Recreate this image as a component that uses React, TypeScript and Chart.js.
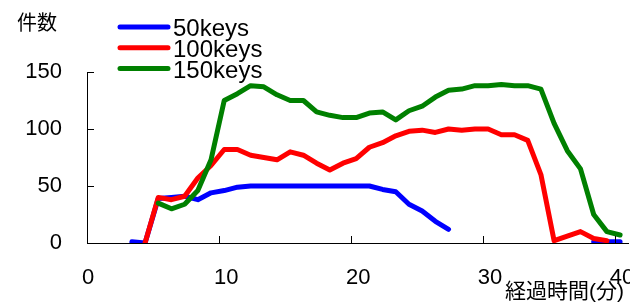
import { useEffect, useRef } from "react";
import { Chart, registerables } from "chart.js";

Chart.register(...registerables);

// elapsed minutes of each sample
const minutes = [
  3.4, 4.4, 5.4, 6.4, 7.4, 8.4, 9.4, 10.4, 11.4, 12.4, 13.4, 14.4, 15.4, 16.4, 17.4, 18.4, 19.4,
  20.4, 21.4, 22.4, 23.4, 24.4, 25.4, 26.4, 27.4, 28.4, 29.4, 30.4, 31.4, 32.4, 33.4, 34.4, 35.4,
  36.4, 37.4, 38.4, 39.4, 40.4,
];

const keys50 = [
  1, 0, 39, 40, 41, 38, 44, 46, 49, 50, 50, 50, 50, 50, 50, 50, 50, 50, 50, 47, 45, 34, 28, 19, 12,
  null, null, null, null, null, null, null, null, null, null, 1, 1, 1,
];

const keys100 = [
  null, 0, 40, 38, 41, 57, 68, 82, 82, 77, 75, 73, 80, 77, 70, 64, 70, 74, 84, 88, 94, 98, 99, 97,
  100, 99, 100, 100, 95, 95, 90, 60, 2, 6, 10, 4, 2, null,
];

const keys150 = [
  null, null, 35, 30, 34, 46, 73, 125, 131, 138, 137, 130, 125, 125, 115, 112, 110, 110, 114, 115,
  108, 116, 120, 128, 134, 135, 138, 138, 139, 138, 138, 135, 105, 81, 65, 25, 10, 7,
];

const seriesLabels = ["50keys", "100keys", "150keys"];
const seriesColors = ["#0000FF", "#FF0000", "#008000"];
const xTicks = [0, 10, 20, 30, 40];
const yTicks = [0, 50, 100, 150];
const yTitle = "件数";
const xTitle = "経過時間(分)";

const LATIN = '"Liberation Sans", Arial, sans-serif';
const CJK = '"Liberation Sans", "Noto Sans CJK JP", sans-serif';

function toPoints(values: (number | null)[]) {
  return minutes.map((m, i) => ({ x: m, y: values[i] }));
}

const decorPlugin = {
  id: "decor",
  afterDraw(chart: any) {
    const { ctx } = chart;
    const x = chart.scales.x;
    const y = chart.scales.y;
    ctx.save();
    // inward tick marks
    ctx.strokeStyle = "#000";
    ctx.lineWidth = 1;
    xTicks.slice(1).forEach((v) => {
      const px = Math.round(x.getPixelForValue(v)) + 0.5;
      ctx.beginPath();
      ctx.moveTo(px, y.bottom);
      ctx.lineTo(px, y.bottom - 7);
      ctx.stroke();
    });
    yTicks.slice(1).forEach((v) => {
      const py = Math.round(y.getPixelForValue(v)) + 0.5;
      ctx.beginPath();
      ctx.moveTo(x.left, py);
      ctx.lineTo(x.left + 7, py);
      ctx.stroke();
    });
    // axis titles
    ctx.fillStyle = "#000";
    ctx.textBaseline = "middle";
    ctx.font = `20px ${CJK}`;
    ctx.textAlign = "center";
    ctx.fillText(yTitle, 37, 24);
    ctx.font = `21px ${CJK}`;
    ctx.textAlign = "right";
    ctx.fillText(xTitle, 624, 292);
    // legend
    chart.data.datasets.forEach((ds: any, i: number) => {
      const ly = 27 + i * 20.8;
      ctx.strokeStyle = ds.borderColor;
      ctx.lineWidth = 5;
      ctx.lineCap = "round";
      ctx.beginPath();
      ctx.moveTo(120, ly);
      ctx.lineTo(168, ly);
      ctx.stroke();
      ctx.fillStyle = "#000";
      ctx.font = `24px ${LATIN}`;
      ctx.textAlign = "left";
      ctx.fillText(ds.label, 173, ly + 2.5);
    });
    ctx.restore();
  },
};

export default function App() {
  const canvasRef = useRef<HTMLCanvasElement | null>(null);

  useEffect(() => {
    const canvas = canvasRef.current;
    if (!canvas) return;
    const series = [keys50, keys100, keys150];
    const chart = new Chart(canvas, {
      type: "line",
      data: {
        datasets: series.map((vals, i) => ({
          label: seriesLabels[i],
          data: toPoints(vals),
          borderColor: seriesColors[i],
          backgroundColor: seriesColors[i],
          borderWidth: 5,
          pointRadius: 0,
          tension: 0,
          spanGaps: false,
          borderCapStyle: "round",
          borderJoinStyle: "round",
          order: 3 - i,
        })),
      },
      options: {
        responsive: false,
        maintainAspectRatio: false,
        animation: false,
        devicePixelRatio: 1,
        layout: { padding: { top: 72, right: 2, left: 0, bottom: 0 }, autoPadding: false },
        plugins: {
          legend: { display: false },
          tooltip: { enabled: false },
          title: { display: false },
        },
        scales: {
          x: {
            type: "linear",
            min: 0,
            max: 41,
            afterBuildTicks: (axis: any) => {
              axis.ticks = xTicks.map((v) => ({ value: v }));
            },
            afterFit: (scale: any) => {
              scale.height = 59;
              scale.paddingLeft = 0;
              scale.paddingRight = 0;
            },
            grid: { display: false, drawTicks: false },
            border: { display: true, color: "#000", width: 1 },
            ticks: {
              autoSkip: false,
              maxRotation: 0,
              minRotation: 0,
              align: "start",
              labelOffset: -5,
              padding: 22,
              color: "#000",
              font: { family: LATIN, size: 22 },
            },
          },
          y: {
            type: "linear",
            min: 0,
            max: 150,
            afterBuildTicks: (axis: any) => {
              axis.ticks = yTicks.map((v) => ({ value: v }));
            },
            afterFit: (scale: any) => {
              scale.width = 87;
              scale.paddingTop = 0;
              scale.paddingBottom = 0;
            },
            grid: { display: false, drawTicks: false },
            border: { display: true, color: "#000", width: 1 },
            ticks: {
              padding: 25,
              color: "#000",
              font: { family: LATIN, size: 22 },
            },
          },
        },
      },
      plugins: [decorPlugin],
    } as any);
    return () => chart.destroy();
  }, []);

  return (
    <div style={{ position: "fixed", left: 0, top: 0, width: 630, height: 302, background: "#fff" }}>
      <canvas ref={canvasRef} width={630} height={302} style={{ display: "block" }} />
    </div>
  );
}
